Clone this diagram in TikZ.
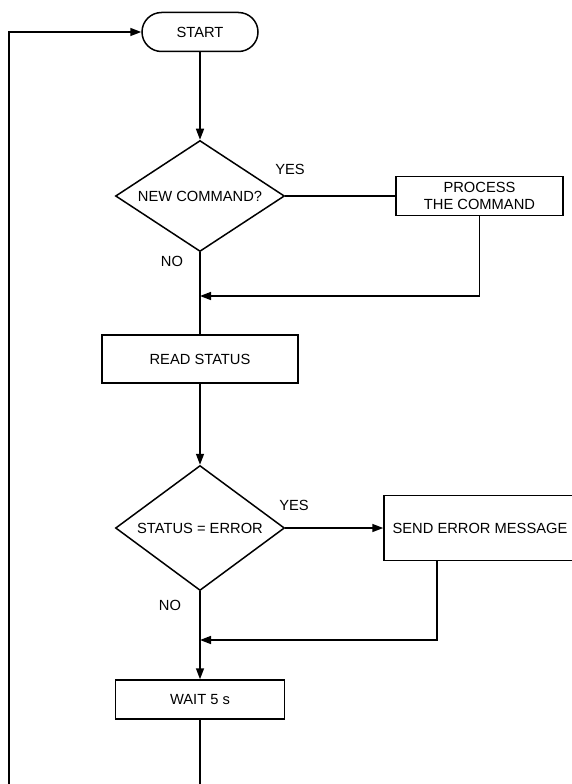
\documentclass[tikz,border=0pt]{standalone}
\usepackage{fontspec}
\setmainfont{Liberation Sans}
\usetikzlibrary{shapes.geometric,arrows.meta}
\tikzstyle{box}=[draw=black,line width=1.5pt,rectangle,inner sep=0pt,align=center]
\tikzstyle{terminal}=[box,rounded corners=19.5pt,minimum width=116pt,minimum height=39pt]
\tikzstyle{decision}=[draw=black,line width=1.5pt,diamond,inner sep=0pt,aspect=1.5,minimum width=169pt]
\tikzstyle{answer}=[inner sep=0pt]
\tikzstyle{wire}=[line width=1.5pt]
\tikzstyle{flow}=[wire,-{Triangle[length=11pt,width=8pt]}]

\begin{document}
\begin{tikzpicture}[x=1pt,y=-1pt,font=\fontsize{14.7}{16.5}\selectfont]
	\useasboundingbox (0,0) rectangle (572,784);
	%nodes
	\node[terminal] (start) at (200,32) {START};
	\node[decision,minimum height=111pt] (newcmd) at (200,196) {NEW COMMAND?};
	\node[box,minimum width=167pt,minimum height=39pt] (process) at (479.5,196) {PROCESS\\THE COMMAND};
	\node[box,minimum width=196pt,minimum height=48pt] (read) at (200,359) {READ STATUS};
	\node[decision,minimum height=125pt] (status) at (200,528) {STATUS = ERROR};
	\node[box,minimum width=192pt,minimum height=65pt] (send) at (480,528) {SEND ERROR MESSAGE};
	\node[box,minimum width=169pt,minimum height=39pt] (wait) at (200,699.5) {WAIT 5 s};
	%answers
	\node[answer] (yes1) at (290,169) {YES};
	\node[answer] (no1) at (172,261) {NO};
	\node[answer] (yes2) at (294,505) {YES};
	\node[answer] (no2) at (170,605) {NO};
	%joins
	\coordinate (join1) at (200,296);
	\coordinate (join2) at (200,640);
	\coordinate (waitend) at (200,784);
	\coordinate (loopend) at (9,784);
	%lines
	\draw[flow] (start) -- (newcmd);
	\draw[wire] (newcmd) -- (process);
	\draw[flow] (process.south) |- (join1);
	\draw[wire] (newcmd) -- (read);
	\draw[flow] (read) -- (status);
	\draw[flow] (status) -- (send);
	\draw[flow] ([xshift=-43pt]send.south) |- (join2);
	\draw[flow] (status) -- (wait);
	\draw[wire] (wait) -- (waitend);
	\draw[flow] (loopend) |- (start);
\end{tikzpicture}
\end{document}
